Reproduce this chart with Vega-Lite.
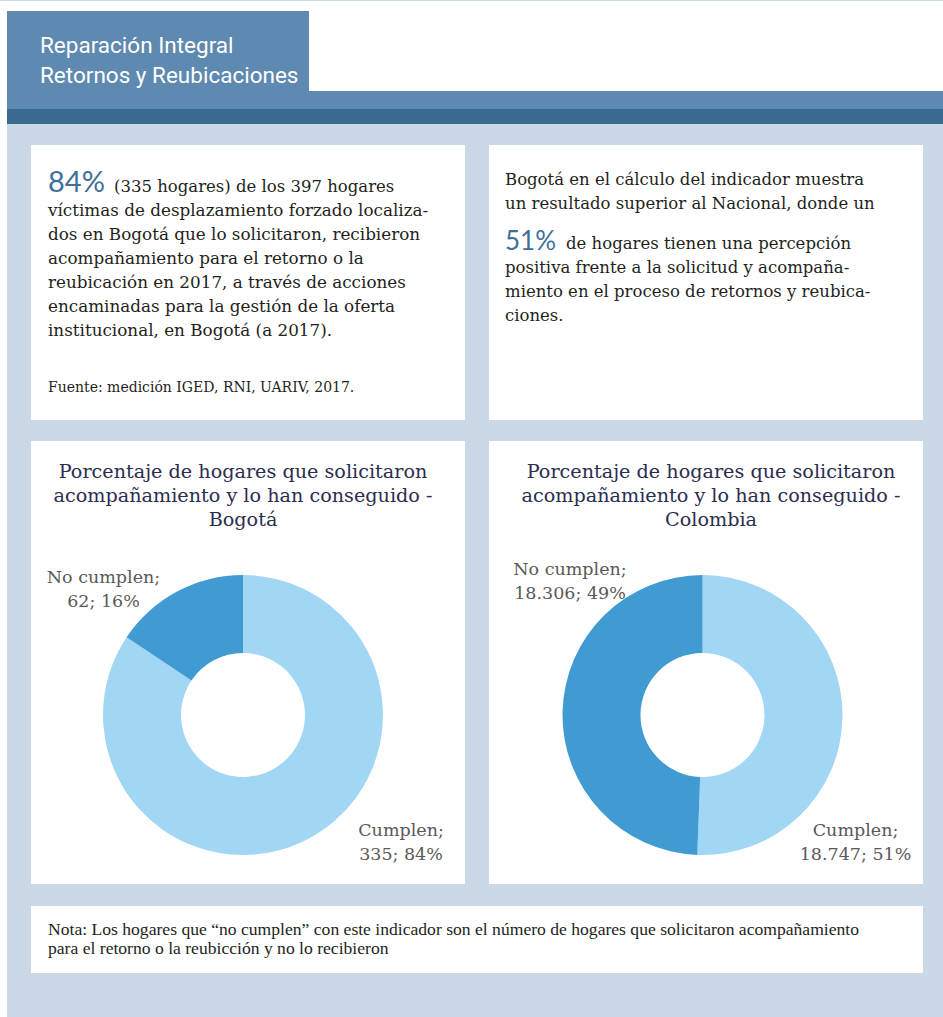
{
  "$schema": "https://vega.github.io/schema/vega-lite/v6.json",
  "background": "#cbd8e6",
  "padding": 0,
  "spacing": 0,
  "config": {
    "view": {"stroke": null},
    "concat": {"spacing": 0},
    "locale": {"number": {"decimal": ",", "thousands": ".", "grouping": [3], "currency": ["$", ""]}}
  },
  "datasets": {
    "bogota": [
      {"categoria": "Cumplen", "hogares": 335},
      {"categoria": "No cumplen", "hogares": 62}
    ],
    "colombia": [
      {"categoria": "Cumplen", "hogares": 18747},
      {"categoria": "No cumplen", "hogares": 18306}
    ]
  },
  "hconcat": [
    {"width": 7, "height": 1017, "view": {"fill": "#ffffff"}, "data": {"values": [{}]}, "mark": "text", "encoding": {"text": {"value": ""}}},
    {
      "spacing": 0,
      "vconcat": [
        {"width": 936, "height": 10, "view": {"fill": "#ffffff"}, "data": {"values": [{}]}, "mark": "text", "encoding": {"text": {"value": ""}}},
        {
          "spacing": 0,
          "hconcat": [
            {
              "width": 302, "height": 80, "view": {"fill": "#5e89b0"},
              "data": {"values": [{}]},
              "mark": {"type": "text", "align": "left", "baseline": "alphabetic", "lineHeight": 30, "font": "Roboto", "fontSize": 22.5, "color": "#ffffff", "dx": -118, "dy": 2},
              "encoding": {"text": {"value": ["Reparación Integral", "Retornos y Reubicaciones"]}}
            },
            {"width": 634, "height": 80, "view": {"fill": "#ffffff"}, "data": {"values": [{}]}, "mark": "text", "encoding": {"text": {"value": ""}}}
          ]
        },
        {"width": 936, "height": 18, "view": {"fill": "#5e89b0"}, "data": {"values": [{}]}, "mark": "text", "encoding": {"text": {"value": ""}}},
        {"width": 936, "height": 15, "view": {"fill": "#396a8f"}, "data": {"values": [{}]}, "mark": "text", "encoding": {"text": {"value": ""}}},
        {"width": 936, "height": 21, "data": {"values": [{}]}, "mark": "text", "encoding": {"text": {"value": ""}}},
        {
          "spacing": 0,
          "hconcat": [
            {"width": 24, "height": 275, "data": {"values": [{}]}, "mark": "text", "encoding": {"text": {"value": ""}}},
            {
              "width": 434, "height": 275, "view": {"fill": "#ffffff"},
              "data": {"values": [{}]},
              "layer": [
                {
                  "mark": {"type": "text", "align": "left", "baseline": "alphabetic", "font": "Lato, Open Sans, sans-serif", "fontSize": 29, "color": "#3f6f9a", "dx": -200, "dy": -90.5},
                  "encoding": {"text": {"value": "84%"}}
                },
                {
                  "mark": {"type": "text", "align": "left", "baseline": "alphabetic", "font": "DejaVu Serif", "fontSize": 16.5, "color": "#231f20", "dx": -134, "dy": -90.5},
                  "encoding": {"text": {"value": "(335 hogares) de los 397 hogares"}}
                },
                {
                  "mark": {"type": "text", "align": "left", "baseline": "alphabetic", "font": "DejaVu Serif", "fontSize": 16.8, "lineHeight": 24, "color": "#231f20", "dx": -200, "dy": -66.5},
                  "encoding": {"text": {"value": ["víctimas de desplazamiento forzado localiza-", "dos en Bogotá que lo solicitaron, recibieron", "acompañamiento para el retorno o la", "reubicación en 2017, a través de acciones", "encaminadas para la gestión de la oferta", "institucional, en Bogotá (a 2017)."]}}
                },
                {
                  "mark": {"type": "text", "align": "left", "baseline": "alphabetic", "font": "DejaVu Serif", "fontSize": 14, "color": "#231f20", "dx": -200, "dy": 109.5},
                  "encoding": {"text": {"value": "Fuente: medición IGED, RNI, UARIV, 2017."}}
                }
              ]
            },
            {"width": 24, "height": 275, "data": {"values": [{}]}, "mark": "text", "encoding": {"text": {"value": ""}}},
            {
              "width": 434, "height": 275, "view": {"fill": "#ffffff"},
              "data": {"values": [{}]},
              "layer": [
                {
                  "mark": {"type": "text", "align": "left", "baseline": "alphabetic", "font": "DejaVu Serif", "fontSize": 16.5, "lineHeight": 24, "color": "#231f20", "dx": -201, "dy": -97.5},
                  "encoding": {"text": {"value": ["Bogotá en el cálculo del indicador muestra", "un resultado superior al Nacional, donde un"]}}
                },
                {
                  "mark": {"type": "text", "align": "left", "baseline": "alphabetic", "font": "Lato, Open Sans, sans-serif", "fontSize": 26, "color": "#3f6f9a", "dx": -201, "dy": -32.5},
                  "encoding": {"text": {"value": "51%"}}
                },
                {
                  "mark": {"type": "text", "align": "left", "baseline": "alphabetic", "font": "DejaVu Serif", "fontSize": 16.5, "color": "#231f20", "dx": -140, "dy": -33.5},
                  "encoding": {"text": {"value": "de hogares tienen una percepción"}}
                },
                {
                  "mark": {"type": "text", "align": "left", "baseline": "alphabetic", "font": "DejaVu Serif", "fontSize": 16.5, "lineHeight": 24, "color": "#231f20", "dx": -201, "dy": -9.5},
                  "encoding": {"text": {"value": ["positiva frente a la solicitud y acompaña-", "miento en el proceso de retornos y reubica-", "ciones."]}}
                }
              ]
            }
          ]
        },
        {"width": 936, "height": 21, "data": {"values": [{}]}, "mark": "text", "encoding": {"text": {"value": ""}}},
        {
          "spacing": 0,
          "hconcat": [
            {"width": 24, "height": 443, "data": {"values": [{}]}, "mark": "text", "encoding": {"text": {"value": ""}}},
            {
              "spacing": 0,
              "vconcat": [
                {
                  "width": 434, "height": 105, "view": {"fill": "#ffffff"},
                  "data": {"values": [{}]},
                  "mark": {"type": "text", "align": "center", "baseline": "alphabetic", "font": "DejaVu Serif", "fontSize": 19.2, "lineHeight": 24, "color": "#2b2d4f", "dx": -5, "dy": -15.8},
                  "encoding": {"text": {"value": ["Porcentaje de hogares que solicitaron", "acompañamiento y lo han conseguido -", "Bogotá"]}}
                },
                {
                  "spacing": 0,
                  "hconcat": [
                    {
                      "width": 424, "height": 338, "view": {"fill": "#ffffff"},
                      "data": {"name": "bogota"},
                      "transform": [
                        {"joinaggregate": [{"op": "sum", "field": "hogares", "as": "total"}]},
                        {"calculate": "datum.categoria + ';\\n' + format(datum.hogares, ',') + '; ' + format(datum.hogares / datum.total, '.0%')", "as": "etiqueta"}
                      ],
                      "layer": [
                        {
                          "mark": {"type": "arc", "innerRadius": 62, "outerRadius": 140},
                          "encoding": {
                            "theta": {"field": "hogares", "type": "quantitative", "stack": true},
                            "order": {"field": "categoria", "type": "nominal", "sort": "ascending"},
                            "color": {"field": "categoria", "type": "nominal", "scale": {"domain": ["Cumplen", "No cumplen"], "range": ["#a1d6f4", "#419bd3"]}, "legend": null}
                          }
                        },
                        {
                          "transform": [{"filter": "datum.categoria === 'No cumplen'"}],
                          "mark": {"type": "text", "align": "center", "baseline": "alphabetic", "lineBreak": "\n", "lineHeight": 24, "font": "DejaVu Serif", "fontSize": 17.5, "color": "#595959", "dx": -139.5, "dy": -132},
                          "encoding": {"text": {"field": "etiqueta", "type": "nominal"}}
                        },
                        {
                          "transform": [{"filter": "datum.categoria === 'Cumplen'"}],
                          "mark": {"type": "text", "align": "center", "baseline": "alphabetic", "lineBreak": "\n", "lineHeight": 24, "font": "DejaVu Serif", "fontSize": 17.5, "color": "#595959", "dx": 158, "dy": 121},
                          "encoding": {"text": {"field": "etiqueta", "type": "nominal"}}
                        }
                      ]
                    },
                    {"width": 10, "height": 338, "view": {"fill": "#ffffff"}, "data": {"values": [{}]}, "mark": "text", "encoding": {"text": {"value": ""}}}
                  ]
                }
              ]
            },
            {"width": 24, "height": 443, "data": {"values": [{}]}, "mark": "text", "encoding": {"text": {"value": ""}}},
            {
              "spacing": 0,
              "vconcat": [
                {
                  "width": 434, "height": 105, "view": {"fill": "#ffffff"},
                  "data": {"values": [{}]},
                  "mark": {"type": "text", "align": "center", "baseline": "alphabetic", "font": "DejaVu Serif", "fontSize": 19.2, "lineHeight": 24, "color": "#2b2d4f", "dx": 5, "dy": -15.8},
                  "encoding": {"text": {"value": ["Porcentaje de hogares que solicitaron", "acompañamiento y lo han conseguido -", "Colombia"]}}
                },
                {
                  "spacing": 0,
                  "hconcat": [
                    {
                      "width": 427, "height": 338, "view": {"fill": "#ffffff"},
                      "data": {"name": "colombia"},
                      "transform": [
                        {"joinaggregate": [{"op": "sum", "field": "hogares", "as": "total"}]},
                        {"calculate": "datum.categoria + ';\\n' + format(datum.hogares, ',') + '; ' + format(datum.hogares / datum.total, '.0%')", "as": "etiqueta"}
                      ],
                      "layer": [
                        {
                          "mark": {"type": "arc", "innerRadius": 62, "outerRadius": 140},
                          "encoding": {
                            "theta": {"field": "hogares", "type": "quantitative", "stack": true},
                            "order": {"field": "categoria", "type": "nominal", "sort": "ascending"},
                            "color": {"field": "categoria", "type": "nominal", "scale": {"domain": ["Cumplen", "No cumplen"], "range": ["#a1d6f4", "#419bd3"]}, "legend": null}
                          }
                        },
                        {
                          "transform": [{"filter": "datum.categoria === 'No cumplen'"}],
                          "mark": {"type": "text", "align": "center", "baseline": "alphabetic", "lineBreak": "\n", "lineHeight": 24, "font": "DejaVu Serif", "fontSize": 17.5, "color": "#595959", "dx": -132.5, "dy": -140},
                          "encoding": {"text": {"field": "etiqueta", "type": "nominal"}}
                        },
                        {
                          "transform": [{"filter": "datum.categoria === 'Cumplen'"}],
                          "mark": {"type": "text", "align": "center", "baseline": "alphabetic", "lineBreak": "\n", "lineHeight": 24, "font": "DejaVu Serif", "fontSize": 17.5, "color": "#595959", "dx": 153, "dy": 121},
                          "encoding": {"text": {"field": "etiqueta", "type": "nominal"}}
                        }
                      ]
                    },
                    {"width": 7, "height": 338, "view": {"fill": "#ffffff"}, "data": {"values": [{}]}, "mark": "text", "encoding": {"text": {"value": ""}}}
                  ]
                }
              ]
            }
          ]
        },
        {"width": 936, "height": 22, "data": {"values": [{}]}, "mark": "text", "encoding": {"text": {"value": ""}}},
        {
          "spacing": 0,
          "hconcat": [
            {"width": 24, "height": 67, "data": {"values": [{}]}, "mark": "text", "encoding": {"text": {"value": ""}}},
            {
              "width": 892, "height": 67, "view": {"fill": "#ffffff"},
              "data": {"values": [{}]},
              "mark": {"type": "text", "align": "left", "baseline": "alphabetic", "font": "Liberation Serif", "fontSize": 17.6, "lineHeight": 19, "color": "#231f20", "dx": -429, "dy": -4.5},
              "encoding": {"text": {"value": ["Nota: Los hogares que “no cumplen” con este indicador son el número de hogares que solicitaron acompañamiento", "para el retorno o la reubicción y no lo recibieron"]}}
            }
          ]
        },
        {"width": 936, "height": 45, "data": {"values": [{}]}, "mark": "text", "encoding": {"text": {"value": ""}}}
      ]
    }
  ]
}
